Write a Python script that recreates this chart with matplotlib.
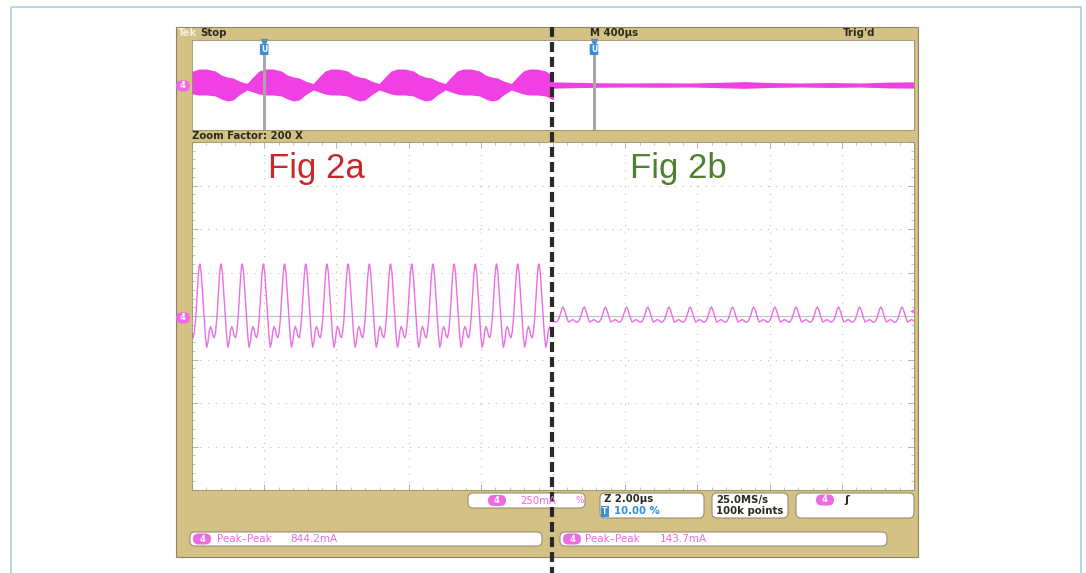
import numpy as np
import matplotlib.pyplot as plt
from matplotlib.patches import Rectangle, FancyBboxPatch

W, H = 1086, 573

# ---- zoom window data (2 us/div, 250 mA/div) ----
period_us = 0.587          # ripple period
first_peak_a = -9.78       # us, first main peak of Fig 2a
n_peaks_a = 17
first_peak_b = 0.28        # us, first peak of Fig 2b
n_peaks_b = 17

# one ripple cycle of Fig 2a, phase 0 = main peak, values in mA
cycle_a_phase = [0, .06, .12, .20, .26, .32, .38, .44, .50, .56, .62, .68, .74, .80, .86, .92, .97]
cycle_a_ma = [299, 250, 140, 0, -120, -180, -150, -85, -60, -80, -115, -125, -90, -10, 110, 230, 290]

# one ripple cycle of Fig 2b
cycle_b_phase = [0, .08, .16, .25, .35, .45, .55, .63, .72, .80, .88, .94]
cycle_b_ma = [52, 30, -5, -35, -28, -20, -28, -36, -32, -15, 15, 42]

# ---- overview record (400 us/div) ----
ov_period = 366            # us, envelope beat period
ov_first_narrow = -1695    # us
ov_phase = [0, .09, .18, .27, .39, .52, .61, .70, .79, .88]
ov_up = [33, 178, 311, 355, 355, 311, 222, 178, 155, 89]
ov_low = [-111, -155, -200, -222, -222, -244, -311, -355, -333, -222]

ovb_t = [0, 122, 260, 427, 593, 759, 925, 1064, 1202, 1368, 1535, 1701, 1867, 2000]
ovb_up = [70, 60, 50, 45, 50, 45, 60, 75, 55, 45, 55, 45, 65, 70]
ovb_low = [-70, -60, -50, -45, -50, -45, -60, -75, -55, -45, -55, -45, -65, -70]

zoom_pos_a = -1600
zoom_pos_b = 227

TAN = '#d4c185'
PINK = '#ec6ae4'
TRACE = '#ea6fe2'
BLOB = '#f040e4'
DARK = '#2b2a20'


def repeat_cycle(start, period, n, phase, vals):
    t, y = [], []
    for k in range(-1, n + 1):
        t.extend(start + (k + np.array(phase)) * period)
        y.extend(vals)
    return np.array(t), np.array(y)


def px_axes(x0, y0, x1, y1, **kw):
    return fig.add_axes([x0 / W, 1 - y1 / H, (x1 - x0) / W, (y1 - y0) / H], **kw)


fig = plt.figure(figsize=(W / 100, H / 100), dpi=100)

ax_bg = fig.add_axes([0, 0, 1, 1], zorder=0)
ax_bg.set_xlim(0, W)
ax_bg.set_ylim(H, 0)
ax_bg.axis('off')
ax_bg.add_patch(Rectangle((11, 7), 1070, 600, fill=False, ec='#b3cddb', lw=1.2))
ax_bg.add_patch(Rectangle((176, 27), 742, 530, fc=TAN, ec='#8c8467', lw=0.8))

# overview panel
ax_ov = px_axes(192, 40, 914, 130, zorder=1)
ax_ov.set_xlim(-2000, 2000)
ax_ov.set_ylim(-1000, 1000)
ax_ov.set_xticks([])
ax_ov.set_yticks([])
for s in ax_ov.spines.values():
    s.set_color('#9a8f6a')
    s.set_linewidth(0.6)

t_ov, up_ov = repeat_cycle(ov_first_narrow, ov_period, 6, ov_phase, ov_up)
_, low_ov = repeat_cycle(ov_first_narrow, ov_period, 6, ov_phase, ov_low)
blob = ax_ov.fill_between(t_ov, low_ov, up_ov, color=BLOB, lw=0)
blob.set_clip_path(Rectangle((-2000, -1000), 2000, 2000, transform=ax_ov.transData))
ax_ov.fill_between(ovb_t, ovb_low, ovb_up, color=BLOB, lw=0)

for zp in (zoom_pos_a, zoom_pos_b):
    ax_ov.plot([zp, zp], [-1000, 760], color='#a8a8a8', lw=2.2, solid_capstyle='butt')
    ax_ov.plot(zp, 950, marker='v', color='#3a8fd8', ms=4, clip_on=False)
    ax_ov.text(zp, 790, 'U', color='white', fontsize=5.5, fontweight='bold', ha='center', va='center',
               bbox=dict(boxstyle='round,pad=0.15', fc='#3a8fd8', ec='none'))

# zoomed panel
ax = px_axes(192, 142, 914, 490, zorder=1)
ax.set_xlim(-10, 10)
ax.set_ylim(-1000, 1000)
ax.set_xticks(np.arange(-10, 11, 2))
ax.set_yticks(np.arange(-1000, 1001, 250))
ax.set_xticks(np.arange(-10, 10.01, 0.4), minor=True)
ax.set_yticks(np.arange(-1000, 1000.1, 50), minor=True)
ax.tick_params(which='both', direction='in', top=True, right=True, labelbottom=False,
               labelleft=False, color='#a8a8a8')
ax.tick_params(which='major', length=4, width=0.6)
ax.tick_params(which='minor', length=2.5, width=0.5)
ax.grid(True, which='major', color='#bdbdbd', lw=0.8, linestyle=(0, (1, 6)))
ax.axhline(0, color='#b8c3d0', lw=0.8)
for s in ax.spines.values():
    s.set_color('#9a8f6a')
    s.set_linewidth(0.6)

t_a, y_a = repeat_cycle(first_peak_a, period_us, n_peaks_a, cycle_a_phase, cycle_a_ma)
la, = ax.plot(t_a, y_a, color=TRACE, lw=1.0)
la.set_clip_path(Rectangle((-10, -1000), 10, 2000, transform=ax.transData))
t_b, y_b = repeat_cycle(first_peak_b, period_us, n_peaks_b, cycle_b_phase, cycle_b_ma)
lb, = ax.plot(t_b, y_b, color=TRACE, lw=1.0)
lb.set_clip_path(Rectangle((0, -1000), 10, 2000, transform=ax.transData))

# overlay: labels, readouts, divider
ax_top = fig.add_axes([0, 0, 1, 1], zorder=5)
ax_top.set_xlim(0, W)
ax_top.set_ylim(H, 0)
ax_top.axis('off')
ax_top.patch.set_alpha(0)

txt = dict(fontsize=7.3, fontweight='bold', va='center')
ax_top.text(178, 33.5, 'Tek', color='#f6f1e2', **txt)
ax_top.text(200, 33.5, 'Stop', color=DARK, **txt)
ax_top.text(590, 33.5, 'M 400µs', color=DARK, **txt)
ax_top.text(843, 33.5, "Trig'd", color=DARK, **txt)
ax_top.text(192, 136, 'Zoom Factor: 200 X', color=DARK, **txt)

ax_top.text(268, 178, 'Fig 2a', color='#c8282a', fontsize=25, family='Liberation Sans', va='baseline')
ax_top.text(630, 178, 'Fig 2b', color='#4f7f2f', fontsize=25, family='Liberation Sans', va='baseline')


def box(x0, y0, x1, y1):
    ax_top.add_patch(FancyBboxPatch((x0, y0), x1 - x0, y1 - y0,
                                    boxstyle='round,pad=0,rounding_size=5',
                                    fc='white', ec='#9a8e70', lw=0.8))


def badge(x, y, w=18, h=11):
    ax_top.add_patch(FancyBboxPatch((x - w / 2, y - h / 2), w, h,
                                    boxstyle=f'round,pad=0,rounding_size={h / 2}',
                                    fc=PINK, ec='none'))
    ax_top.text(x, y, '4', color='white', fontsize=6, fontweight='bold', ha='center', va='center')


# channel markers at the left edge
badge(183, 86, w=14, h=11)
badge(183, 318, w=14, h=11)
ax_top.text(912, 310, '◂', color=PINK, fontsize=7, ha='center', va='center')

box(468, 493, 585, 508)
badge(497, 500.5)
ax_top.text(520, 500.5, '250mA', color=PINK, fontsize=7.3, va='center')
ax_top.text(575, 500.5, '%', color=PINK, fontsize=6.5, va='center')

box(600, 493, 704, 518)
ax_top.text(604, 499.5, 'Z 2.00µs', color=DARK, **txt)
ax_top.text(605, 511.5, 'T', color='white', fontsize=5.5, fontweight='bold', ha='center', va='center',
            bbox=dict(boxstyle='square,pad=0.15', fc='#3a8fd8', ec='none'))
ax_top.text(614, 511.5, '10.00 %', color='#2f8fe0', **txt)

box(712, 493, 788, 518)
ax_top.text(716, 499.5, '25.0MS/s', color=DARK, **txt)
ax_top.text(716, 511.5, '100k points', color=DARK, **txt)

box(796, 493, 914, 518)
badge(825, 500)
ax_top.text(847, 500, 'ʃ', color=DARK, fontsize=8, fontweight='bold', ha='center', va='center')

box(190, 532, 542, 546)
badge(202, 539)
ax_top.text(217, 539, 'Peak–Peak', color=PINK, fontsize=7.5, va='center')
ax_top.text(290, 539, '844.2mA', color=PINK, fontsize=7.5, va='center')

box(560, 532, 887, 546)
badge(572, 539)
ax_top.text(585, 539, 'Peak–Peak', color=PINK, fontsize=7.5, va='center')
ax_top.text(660, 539, '143.7mA', color=PINK, fontsize=7.5, va='center')

ax_top.plot([552, 552], [27, H], color='#2a2a2a', lw=3, linestyle=(0, (2.4, 1.2)))

fig.savefig('out.png', dpi=100)
